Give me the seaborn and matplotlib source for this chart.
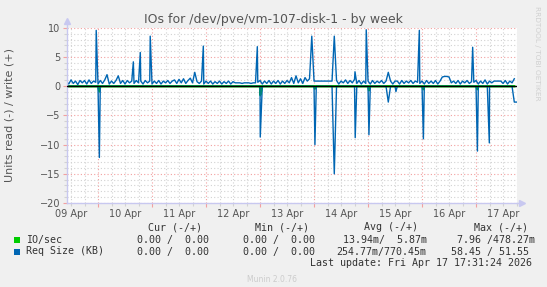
import numpy as np
import pandas as pd
import matplotlib
matplotlib.use("Agg")
import matplotlib.pyplot as plt
import matplotlib.dates as mdates
from matplotlib.ticker import MultipleLocator, FuncFormatter, NullFormatter
from matplotlib.patches import Rectangle
import seaborn as sns

# ---------------- data ----------------
START = pd.Timestamp("2026-04-09 10:00")

# Req Size (KB) write, hourly baseline (hours after START)
req_write_base = [
    0.8, 0.4, 1.1, 0.5, 0.9, 0.3, 1.0, 0.6, 1.0, 0.4, 1.1, 0.5, 0.9, 0.7, 0.4, 1.0, 0.5, 1.1, 2.0, 0.4, 0.9, 0.5, 1.0, 1.8,
    0.5, 1.0, 0.4, 1.0, 0.6, 0.9, 0.5, 1.0, 0.6, 0.9, 0.4, 1.0, 0.6, 0.9, 0.4, 0.9, 0.5, 1.0, 0.4, 0.9, 0.6, 1.0, 0.5, 0.9,
    1.1, 0.5, 1.2, 0.6, 1.3, 0.5, 1.0, 1.4, 0.6, 2.4, 0.8, 0.5, 0.9, 0.4, 0.9, 0.5, 0.9, 0.4, 0.8, 0.5, 0.9, 0.4, 0.8, 0.5,
    0.9, 0.4, 0.8, 0.6, 0.6, 0.6, 0.5, 0.6, 0.6, 0.6, 0.5, 0.6, 0.6, 0.7, 1.0, 0.4, 0.9, 0.5, 1.0, 0.4, 0.9, 0.5, 1.0, 0.4,
    0.9, 0.5, 1.0, 0.6, 1.5, 0.5, 1.8, 0.6, 1.3, 0.5, 1.5, 0.9, 1.3, 0.7, 0.9, 0.9, 0.9, 0.9, 0.9, 0.9, 0.9, 0.9, 0.9, 0.5,
    1.0, 0.4, 0.9, 0.6, 1.1, 0.5, 1.0, 0.6, 1.2, 0.5, 1.0, 0.4, 0.9, 0.5, 0.9, 0.4, 1.0, 0.5, 0.9, 0.6, 1.0, 0.5, 0.9, 0.5,
    0.9, 0.4, 0.9, 0.9, 0.4, 1.0, 0.5, 0.9, 0.6, 1.0, 0.5, 0.9, 0.7, 0.5, 0.9, 0.4, 1.0, 0.5, 0.9, 0.5, 1.0, 0.4, 0.9, 1.6,
    1.7, 1.7, 1.6, 0.6, 0.9, 0.5, 1.0, 0.4, 0.9, 0.6, 1.0, 0.5, 0.8, 0.7, 1.0, 0.4, 0.9, 0.5, 1.1, 0.4, 0.9, 0.6, 0.9, 0.9,
    0.9, 0.9, 0.5, 1.0, 0.4, 0.9, 0.6, 1.3,
]

# Req Size (KB) write spikes
req_write_spike_hours = [13.2, 29.7, 32.8, 37.2, 60.8, 84.8, 109.0, 119.0, 128.2, 133.2, 143.0, 156.8, 180.5]
req_write_spike_vals = [9.6, 4.2, 5.8, 8.6, 6.9, 6.8, 8.6, 8.6, 2.5, 9.7, 2.4, 9.6, 6.7]

# Req Size (KB) read spikes (drawn negative)
req_read_spike_hours = [14.6, 86.1, 110.4, 119.0, 128.3, 134.4, 143.0, 146.4, 158.6, 182.6, 187.9, 199.0, 199.9]
req_read_spike_vals = [-12.2, -8.7, -10.0, -15.0, -8.8, -8.3, -2.7, -0.9, -9.0, -11.1, -9.7, -2.7, -2.7]

# IO/sec read spikes (drawn negative)
io_read_spike_hours = [14.6, 86.1, 110.4, 134.4, 158.6, 182.6]
io_read_spike_vals = [-0.9, -1.5, -0.4, -0.7, -0.5, -0.5]

legend_names = ["IO/sec", "Req Size (KB)"]
legend_colors = ["#00CC00", "#0066B3"]
headers = ["Cur (-/+)", "Min (-/+)", "Avg (-/+)", "Max (-/+)"]
cur_col = ["0.00 /  0.00", "0.00 /  0.00"]
min_col = ["0.00 /  0.00", "0.00 /  0.00"]
avg_col = ["13.94m/  5.87m", "254.77m/770.45m"]
max_col = ["7.96 /478.27m", "58.45 / 51.55"]


def build(base_vals, ev_hours, ev_vals):
    pts = {float(h): float(v) for h, v in enumerate(base_vals)}
    for h, v in zip(ev_hours, ev_vals):
        pts[float(h)] = float(v)
    hrs = sorted(pts)
    return pd.DataFrame({"time": START + pd.to_timedelta(hrs, unit="h"),
                         "value": [pts[h] for h in hrs]})


n = len(req_write_base)
zeros = [0.0] * n
df_req_w = build(req_write_base, req_write_spike_hours, req_write_spike_vals)
df_req_r = build(zeros, req_read_spike_hours, req_read_spike_vals)
df_io_w = build(zeros, [], [])
df_io_r = build(zeros, io_read_spike_hours, io_read_spike_vals)

# ---------------- figure ----------------
W, H = 547, 287
fig = plt.figure(figsize=(W / 100, H / 100), dpi=100, facecolor="#F0F0F0")
x0, x1, ytop, ybot = 67, 517, 28, 203
ax = fig.add_axes([x0 / W, 1 - ybot / H, (x1 - x0) / W, (ybot - ytop) / H])
ax.set_facecolor("white")

GREEN, BLUE = legend_colors
sns.lineplot(data=df_io_w, x="time", y="value", ax=ax, color=GREEN, linewidth=1.2, estimator=None)
sns.lineplot(data=df_io_r, x="time", y="value", ax=ax, color=GREEN, linewidth=1.6, estimator=None)
sns.lineplot(data=df_req_w, x="time", y="value", ax=ax, color=BLUE, linewidth=1.0, estimator=None)
sns.lineplot(data=df_req_r, x="time", y="value", ax=ax, color=BLUE, linewidth=1.0, estimator=None)
ax.axhline(0, color="black", linewidth=1.0, zorder=5)

ax.set_xlim(START + pd.Timedelta(hours=0.22), START + pd.Timedelta(hours=200.2))
ax.set_ylim(-20, 10)

# grids
MAJ = "#F2A0A0"
MIN = "#D2D2D2"
AXC = "#C8C8F0"
ax.yaxis.set_major_locator(MultipleLocator(5))
ax.yaxis.set_minor_locator(MultipleLocator(1))
ax.xaxis.set_major_locator(mdates.HourLocator(byhour=[0]))
ax.xaxis.set_minor_locator(mdates.HourLocator(byhour=[6, 12, 18]))
ax.xaxis.set_major_formatter(NullFormatter())


def minor_fmt(x, pos):
    d = mdates.num2date(x)
    if d.hour == 12:
        return d.strftime("%d %b")
    return ""


ax.xaxis.set_minor_formatter(FuncFormatter(minor_fmt))
ax.grid(which="minor", color=MIN, linestyle=(0, (1, 2)), linewidth=0.8)
ax.grid(which="major", color=MAJ, linestyle=(0, (1, 2)), linewidth=0.8)
ax.set_axisbelow(True)

ax.tick_params(axis="both", which="major", colors=MAJ, length=3, width=0.8,
               labelcolor="#555555", labelsize=7)
ax.tick_params(axis="both", which="minor", colors=MIN, length=2, width=0.8,
               labelcolor="#555555", labelsize=7)
ax.tick_params(axis="x", which="minor", pad=2)
ax.tick_params(axis="y", which="major", pad=2)
ax.set_xlabel("")
ax.set_ylabel("")

for s in ["top", "right"]:
    ax.spines[s].set_visible(False)
for s in ["left", "bottom"]:
    ax.spines[s].set_color(AXC)
    ax.spines[s].set_linewidth(1.0)
ax.plot([0, 0], [1, 1.03], transform=ax.transAxes, color=AXC, lw=1, clip_on=False)
ax.plot([1, 1.01], [0, 0], transform=ax.transAxes, color=AXC, lw=1, clip_on=False)
ax.plot([0], [1.04], marker="^", markersize=5, color=AXC, transform=ax.transAxes, clip_on=False)
ax.plot([1.012], [0], marker=">", markersize=5, color=AXC, transform=ax.transAxes, clip_on=False)

# texts
TXT = "#555555"
fig.text(273 / W, 1 - 20 / H, "IOs for /dev/pve/vm-107-disk-1 - by week", ha="center", va="center",
         fontsize=9, color=TXT, family="DejaVu Sans")
fig.text(10 / W, 1 - 115 / H, "Units read (-) / write (+)", rotation=90, ha="center", va="center",
         fontsize=8, color=TXT, family="DejaVu Sans")
fig.text(537.5 / W, 1 - 53 / H, "RRDTOOL / TOBI OETIKER", rotation=-90, ha="center", va="center",
         fontsize=5.3, color="#D0D0D0", family="DejaVu Sans")

MONO = dict(family="DejaVu Sans Mono", fontsize=7.2, color="#333333", va="center")
for x, s in zip([148, 255, 364, 474], headers):
    fig.text(x / W, 1 - 227.5 / H, s, ha="left", **MONO)

rows_y = [240, 251.5]
avg_x = [342.7, 336.7]
max_x = [456.7, 451]
for i in range(2):
    y = rows_y[i]
    fig.add_artist(Rectangle((14 / W, 1 - (y + 3) / H), 6 / W, 6 / H, transform=fig.transFigure,
                             facecolor=legend_colors[i], edgecolor="none"))
    fig.text(26 / W, 1 - y / H, legend_names[i], ha="left", **MONO)
    fig.text(137.3 / W, 1 - y / H, cur_col[i], ha="left", **MONO)
    fig.text(242.7 / W, 1 - y / H, min_col[i], ha="left", **MONO)
    fig.text(avg_x[i] / W, 1 - y / H, avg_col[i], ha="left", **MONO)
    fig.text(max_x[i] / W, 1 - y / H, max_col[i], ha="left", **MONO)

fig.text(310 / W, 1 - 263 / H, "Last update: Fri Apr 17 17:31:24 2026", ha="left", **MONO)
fig.text(272 / W, 1 - 279 / H, "Munin 2.0.76", ha="center", va="center", fontsize=5.5,
         color="#CCCCCC", family="DejaVu Sans")

fig.savefig("out.png", dpi=100, facecolor=fig.get_facecolor())
